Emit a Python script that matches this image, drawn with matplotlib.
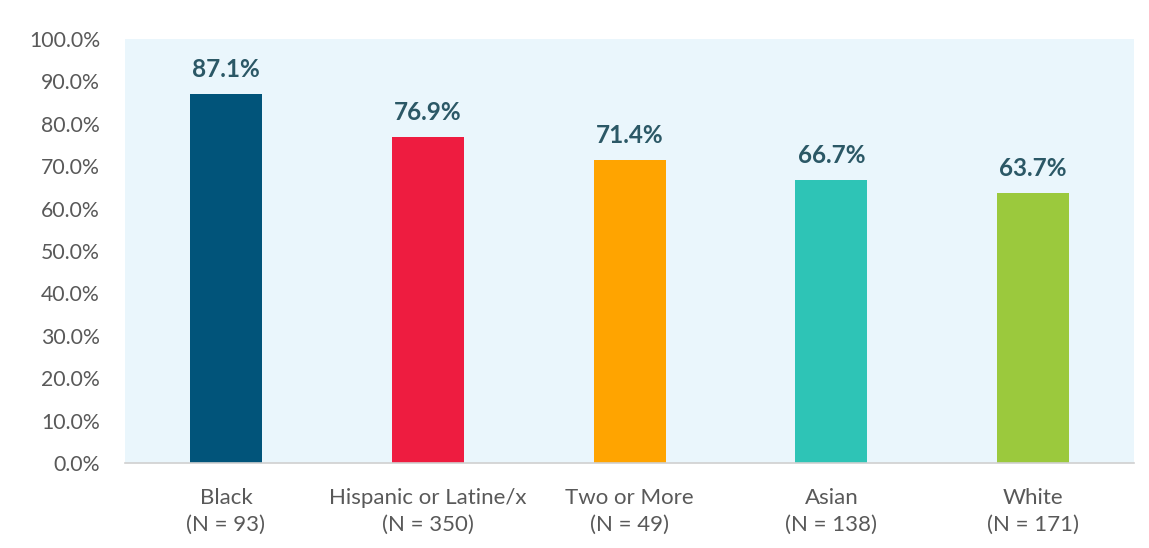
import matplotlib.pyplot as plt
from matplotlib.ticker import FuncFormatter

groups = ["Black", "Hispanic or Latine/x", "Two or More", "Asian", "White"]
counts = [93, 350, 49, 138, 171]
rates = [87.1, 76.9, 71.4, 66.7, 63.7]
colors = ["#01547A", "#EE1C40", "#FFA400", "#2EC4B6", "#9BC93D"]

plt.rcParams["font.family"] = ["Lato", "DejaVu Sans"]

fig = plt.figure(figsize=(11.49, 5.48), dpi=100)
ax = fig.add_axes([0.1088, 0.155, 0.8782, 0.774])
ax.set_facecolor("#EAF6FC")

x = range(len(groups))
ax.bar(x, rates, width=0.357, color=colors, zorder=2)

for xi, v in zip(x, rates):
    ax.text(xi, v + 3.0, f"{v:.1f}%", ha="center", va="bottom",
            fontsize=17.5, fontweight="bold", color="#2B5866")

ax.set_xlim(-0.5, len(groups) - 0.5)
ax.set_ylim(0, 100)
ax.set_yticks(range(0, 101, 10))
ax.yaxis.set_major_formatter(FuncFormatter(lambda v, _: f"{v:.1f}%"))
ax.set_xticks(list(x))
ax.set_xticklabels([f"{g}\n(N = {n})" for g, n in zip(groups, counts)],
                   linespacing=1.45)

ax.tick_params(axis="both", length=0, labelcolor="#595959")
ax.tick_params(axis="x", pad=18, labelsize=16)
ax.tick_params(axis="y", pad=18, labelsize=15.3)

for side in ["top", "right", "left"]:
    ax.spines[side].set_visible(False)
ax.spines["bottom"].set_color("#D0D0D0")
ax.spines["bottom"].set_linewidth(1.2)

fig.savefig("out.png", dpi=100)
